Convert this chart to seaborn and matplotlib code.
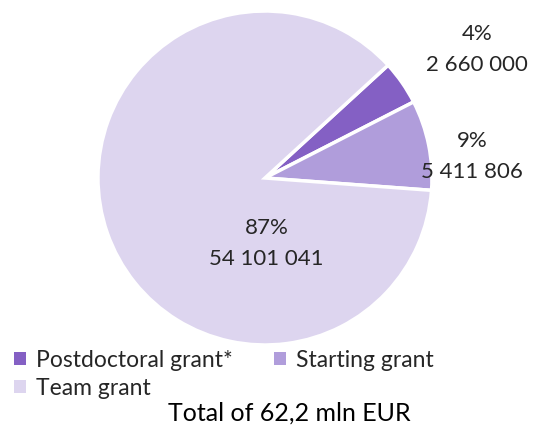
import matplotlib
matplotlib.use('Agg')
import matplotlib.pyplot as plt
from matplotlib.patches import Patch
import seaborn as sns

sns.set_style('white')
plt.rcParams['font.family'] = ['Lato', 'DejaVu Sans']

# grant data (EUR)
grants = ['Postdoctoral grant*', 'Starting grant', 'Team grant']
amounts = [2660000, 5411806, 54101041]
colors = ['#8460c4', '#b09ddb', '#ddd5ef']
title = 'Total of 62,2 mln EUR'

total = sum(amounts)

fig = plt.figure(figsize=(5.36, 4.30), dpi=100)
ax = fig.add_axes([0.1828, 0.1977, 0.6231, 0.7767])

wedges, _ = ax.pie(amounts, colors=colors, startangle=42.5, counterclock=False,
                   wedgeprops=dict(edgecolor='white', linewidth=2.5))
ax.set_aspect('equal')
ax.set_xlim(-1, 1)
ax.set_ylim(-1, 1)

# value labels, placed like the original
label_pos = [(1.27, 0.77), (1.24, 0.13), (0.01, -0.39)]
for amt, (x, y) in zip(amounts, label_pos):
    pct = round(amt / total * 100)
    txt = f'{pct}%\n' + f'{amt:,}'.replace(',', ' ')
    ax.text(x, y, txt, ha='center', va='center', fontsize=16, color='#262626',
            linespacing=1.7)

# legend filled row by row: Postdoc, Starting / Team
handles = [Patch(facecolor=c, edgecolor='none') for c in colors]
order = [0, 2, 1]
fig.legend([handles[i] for i in order], [grants[i] for i in order], ncol=2,
           loc='upper left', bbox_to_anchor=(0.027, 0.187), borderpad=0,
           borderaxespad=0, frameon=False, handlelength=0.5, handleheight=0.5,
           handletextpad=0.45, columnspacing=1.8, labelspacing=0.32,
           prop={'size': 16.5}, labelcolor='#262626')

fig.text(0.54, 0.04, title, ha='center', va='center', fontsize=18, color='black')

fig.savefig('out.png', dpi=100)
